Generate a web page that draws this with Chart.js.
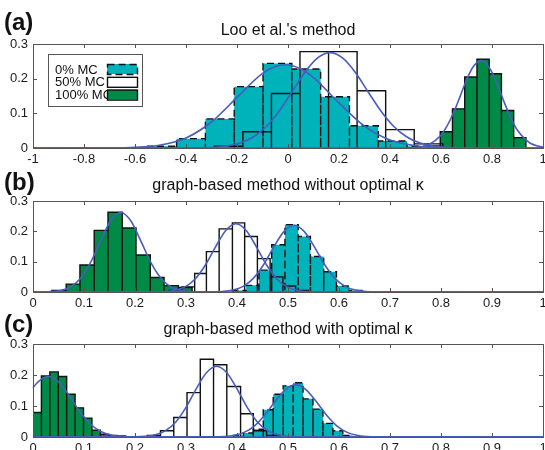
<!DOCTYPE html>
<html>
<head>
<meta charset="utf-8">
<script src="https://cdn.jsdelivr.net/npm/chart.js@4.4.0/dist/chart.umd.min.js"></script>
<style>
html, body { margin: 0; padding: 0; background: #fff; overflow: hidden; width: 545px; height: 450px; }
canvas { position: absolute; left: 0; }
</style>
</head>
<body>
<canvas id="panelA" width="560" height="168" style="top:0px"></canvas>
<canvas id="panelB" width="560" height="144" style="top:168px"></canvas>
<canvas id="panelC" width="560" height="145" style="top:312px"></canvas>
<script>
// tick labels
var ticksA = [-1, -0.8, -0.6, -0.4, -0.2, 0, 0.2, 0.4, 0.6, 0.8, 1];
var ticksBC = [0, 0.1, 0.2, 0.3, 0.4, 0.5, 0.6, 0.7, 0.8, 0.9, 1];
var ticksY = [0, 0.1, 0.2, 0.3];

var seriesNames = ["0% MC", "50% MC", "100% MC"];

// (a) Loo et al.'s method -- bin edges and relative frequencies
var aCyanEdges = [-0.550, -0.437, -0.324, -0.211, -0.098, 0.015, 0.128, 0.241, 0.354, 0.467, 0.580];
var aCyanFreq = [0.005, 0.027, 0.084, 0.177, 0.244, 0.228, 0.148, 0.064, 0.020, 0.005];
var aWhiteEdges = [-0.289, -0.177, -0.065, 0.047, 0.159, 0.271, 0.383, 0.495, 0.607];
var aWhiteFreq = [0.005, 0.047, 0.157, 0.278, 0.278, 0.165, 0.053, 0.012];
var aGreenEdges = [0.549, 0.597, 0.645, 0.693, 0.741, 0.789, 0.837, 0.885, 0.933];
var aGreenFreq = [0.006, 0.047, 0.113, 0.205, 0.256, 0.214, 0.108, 0.030];
// fitted curves
var aCyanFitX = [-1, -0.7, -0.6, -0.5, -0.4, -0.3, -0.2, -0.1, -0.05, -0.01, 0.05, 0.1, 0.2, 0.3, 0.4, 0.5, 0.6, 0.7, 1];
var aCyanFitY = [0, 0.0003, 0.0019, 0.0086, 0.029, 0.075, 0.146, 0.215, 0.235, 0.24, 0.228, 0.203, 0.130, 0.063, 0.023, 0.0066, 0.0014, 0.0002, 0];
var aWhiteFitX = [-1, -0.385, -0.285, -0.235, -0.185, -0.135, -0.085, -0.035, 0.015, 0.065, 0.115, 0.165, 0.215, 0.265, 0.315, 0.365, 0.415, 0.465, 0.515, 0.565, 0.615, 0.715, 1];
var aWhiteFitY = [0, 0.0002, 0.0022, 0.0061, 0.0149, 0.0324, 0.062, 0.106, 0.161, 0.217, 0.259, 0.275, 0.259, 0.217, 0.161, 0.106, 0.062, 0.0324, 0.0149, 0.0061, 0.0022, 0.0002, 0];
var aGreenFitX = [-1, 0.4, 0.5, 0.55, 0.6, 0.625, 0.65, 0.675, 0.7, 0.725, 0.757, 0.775, 0.8, 0.825, 0.85, 0.875, 0.9, 0.95, 1];
var aGreenFitY = [0, 0, 0.0014, 0.0088, 0.037, 0.065, 0.103, 0.149, 0.196, 0.233, 0.252, 0.246, 0.218, 0.176, 0.128, 0.085, 0.051, 0.0137, 0.0025];

// (b) graph-based without optimal kappa
var bGreenEdges = [0.037, 0.065, 0.092, 0.120, 0.147, 0.175, 0.202, 0.230, 0.257, 0.285, 0.312];
var bGreenFreq = [0.005, 0.026, 0.089, 0.203, 0.263, 0.211, 0.122, 0.048, 0.021, 0.015];
var bWhiteEdges = [0.267, 0.292, 0.317, 0.340, 0.365, 0.391, 0.415, 0.440, 0.465, 0.490, 0.515, 0.540];
var bWhiteFreq = [0.005, 0.017, 0.061, 0.133, 0.208, 0.228, 0.183, 0.11, 0.05, 0.02, 0.005];
var bCyanEdges = [0.392, 0.418, 0.443, 0.468, 0.494, 0.520, 0.544, 0.570, 0.595, 0.620, 0.645];
var bCyanFreq = [0.005, 0.022, 0.072, 0.156, 0.222, 0.183, 0.117, 0.067, 0.020, 0.005];
var bGreenFitX = [0, 0.032, 0.052, 0.072, 0.092, 0.112, 0.132, 0.152, 0.172, 0.192, 0.212, 0.232, 0.252, 0.272, 0.292, 0.312, 0.34, 1];
var bGreenFitY = [0, 0.001, 0.0044, 0.015, 0.043, 0.094, 0.166, 0.234, 0.262, 0.234, 0.166, 0.094, 0.043, 0.015, 0.0044, 0.001, 0, 0];
var bWhiteFitX = [0, 0.238, 0.258, 0.278, 0.298, 0.318, 0.338, 0.358, 0.378, 0.398, 0.418, 0.438, 0.458, 0.478, 0.498, 0.518, 0.538, 0.558, 1];
var bWhiteFitY = [0, 0.0003, 0.0014, 0.0055, 0.017, 0.043, 0.089, 0.149, 0.203, 0.225, 0.203, 0.149, 0.089, 0.043, 0.017, 0.0055, 0.0014, 0.0003, 0];
var bCyanFitX = [0, 0.352, 0.372, 0.392, 0.412, 0.432, 0.452, 0.472, 0.492, 0.512, 0.532, 0.552, 0.572, 0.592, 0.612, 0.632, 0.652, 0.672, 1];
var bCyanFitY = [0, 0.0004, 0.0017, 0.0063, 0.0187, 0.045, 0.090, 0.148, 0.199, 0.22, 0.199, 0.148, 0.090, 0.045, 0.0187, 0.0063, 0.0017, 0.0004, 0];

// (c) graph-based with optimal kappa
var cGreenEdges = [0, 0.0165, 0.033, 0.0495, 0.066, 0.0825, 0.099, 0.1155, 0.132, 0.1485, 0.165, 0.1815];
var cGreenFreq = [0.079, 0.197, 0.210, 0.195, 0.138, 0.094, 0.061, 0.022, 0.009, 0.005, 0.003];
var cWhiteEdges = [0.224, 0.250, 0.276, 0.302, 0.328, 0.354, 0.380, 0.407, 0.432, 0.458, 0.484];
var cWhiteFreq = [0.005, 0.02, 0.063, 0.143, 0.251, 0.233, 0.163, 0.075, 0.02, 0.005];
var cCyanEdges = [0.393, 0.4125, 0.432, 0.4515, 0.471, 0.4905, 0.510, 0.5295, 0.549, 0.5685, 0.588, 0.6075, 0.627];
var cCyanFreq = [0.005, 0.013, 0.025, 0.088, 0.138, 0.165, 0.175, 0.123, 0.09, 0.044, 0.02, 0.005];
var cGreenFitX = [0, 0.01, 0.03, 0.05, 0.07, 0.09, 0.11, 0.13, 0.15, 0.17, 0.19, 0.21, 1];
var cGreenFitY = [0.159, 0.178, 0.195, 0.178, 0.136, 0.086, 0.046, 0.0203, 0.0075, 0.0023, 0.0006, 0.0001, 0];
var cWhiteFitX = [0, 0.2, 0.22, 0.24, 0.26, 0.28, 0.30, 0.32, 0.34, 0.36, 0.38, 0.40, 0.42, 0.44, 0.46, 0.48, 0.50, 0.52, 1];
var cWhiteFitY = [0, 0.0005, 0.002, 0.007, 0.0204, 0.0486, 0.0955, 0.155, 0.207, 0.228, 0.207, 0.155, 0.0955, 0.0486, 0.0204, 0.007, 0.002, 0.0005, 0];
var cCyanFitX = [0, 0.355, 0.375, 0.395, 0.415, 0.435, 0.455, 0.475, 0.495, 0.515, 0.535, 0.555, 0.575, 0.595, 0.615, 0.635, 0.655, 0.675, 1];
var cCyanFitY = [0, 0.0004, 0.0016, 0.0056, 0.0158, 0.037, 0.0717, 0.115, 0.153, 0.168, 0.153, 0.115, 0.0717, 0.037, 0.0158, 0.0056, 0.0016, 0.0004, 0];

var CYAN = "#00b2ba";
var GREEN = "#008a48";
var BLUE = "#4a5cbd";
var FONT = "'Liberation Sans', Arial, sans-serif";

// bars traced as one outline so every bin edge gets drawn
function outline(edges, freq) {
  var pts = [{x: edges[0], y: 0}];
  for (var i = 0; i < freq.length; i++) {
    pts.push({x: edges[i], y: freq[i]});
    pts.push({x: edges[i + 1], y: freq[i]});
    pts.push({x: edges[i + 1], y: 0});
  }
  return pts;
}
function pairs(xs, ys) {
  return xs.map(function (x, i) { return {x: x, y: ys[i]}; });
}

function fit(xs, ys) {
  return {data: pairs(xs, ys), borderColor: BLUE, borderWidth: 1.6, fill: false,
    pointRadius: 0, cubicInterpolationMode: "monotone", clip: 4};
}
function hist(kind, edges, freq) {
  var ds = {data: outline(edges, freq), borderColor: "#111", borderWidth: 1.4,
    pointRadius: 0, tension: 0, legendKind: kind};
  if (kind == 0) { ds.backgroundColor = CYAN; ds.fill = "origin"; ds.borderDash = [7, 4]; }
  if (kind == 1) { ds.fill = false; }
  if (kind == 2) { ds.backgroundColor = GREEN; ds.fill = "origin"; }
  return ds;
}

var framePlugin = {
  id: "frame",
  afterDraw: function (chart) {
    var ctx = chart.ctx, a = chart.chartArea;
    var sx = chart.scales.x, sy = chart.scales.y;
    ctx.save();
    ctx.strokeStyle = "#555";
    ctx.lineWidth = 1;
    ctx.beginPath();
    sx.ticks.forEach(function (t) {
      var px = Math.round(sx.getPixelForValue(t.value)) + 0.5;
      ctx.moveTo(px, a.bottom); ctx.lineTo(px, a.bottom - 4);
      ctx.moveTo(px, a.top); ctx.lineTo(px, a.top + 4);
    });
    sy.ticks.forEach(function (t) {
      var py = Math.round(sy.getPixelForValue(t.value)) + 0.5;
      ctx.moveTo(a.left, py); ctx.lineTo(a.left + 4, py);
      ctx.moveTo(a.right, py); ctx.lineTo(a.right - 4, py);
    });
    ctx.stroke();
    ctx.strokeRect(Math.round(a.left) + 0.5, Math.round(a.top) + 0.5, Math.round(a.right - a.left), Math.round(a.bottom - a.top));
    ctx.restore();
  }
};

function headPlugin(tag, title, tagBase, titleBase) {
  return {
    id: "head",
    afterDraw: function (chart) {
      var ctx = chart.ctx, a = chart.chartArea;
      ctx.save();
      ctx.fillStyle = "#111";
      ctx.textBaseline = "alphabetic";
      ctx.font = "bold 24px " + FONT;
      ctx.textAlign = "left";
      ctx.fillText(tag, 4, tagBase);
      ctx.font = "16px " + FONT;
      ctx.textAlign = "center";
      ctx.fillText(title, (a.left + a.right) / 2, titleBase);
      ctx.restore();
    }
  };
}

var legendPlugin = {
  id: "boxLegend",
  afterDraw: function (chart) {
    var ctx = chart.ctx;
    var x0 = 48, y0 = 54, w = 94, h = 52;
    ctx.save();
    ctx.fillStyle = "#fff";
    ctx.fillRect(x0, y0, w, h);
    ctx.strokeStyle = "#555";
    ctx.lineWidth = 1;
    ctx.strokeRect(x0 + 0.5, y0 + 0.5, w, h);
    ctx.font = "13px " + FONT;
    ctx.textBaseline = "alphabetic";
    ctx.textAlign = "left";
    var items = chart.data.datasets.filter(function (d) { return d.legendKind !== undefined; })
      .sort(function (p, q) { return p.legendKind - q.legendKind; });
    items.forEach(function (d, i) {
      var ty = y0 + 20 + i * 12.3;
      ctx.fillStyle = "#111";
      ctx.fillText(seriesNames[d.legendKind], x0 + 7, ty);
      var bx = x0 + 59, by = y0 + 10 + i * 12.8;
      ctx.fillStyle = d.backgroundColor || "#fff";
      ctx.fillRect(bx, by, 30, 10);
      ctx.strokeStyle = "#111";
      ctx.lineWidth = 1.4;
      ctx.setLineDash(d.borderDash || []);
      ctx.strokeRect(bx + 0.5, by + 0.5, 30, 10);
      ctx.setLineDash([]);
    });
    ctx.restore();
  }
};

function makePanel(id, xTicks, top, datasets, extra) {
  return new Chart(document.getElementById(id), {
    type: "line",
    data: {datasets: datasets},
    options: {
      responsive: false,
      animation: false,
      layout: {padding: {top: top, right: 17, left: 0, bottom: 0}},
      plugins: {legend: {display: false}, tooltip: {enabled: false}, title: {display: false}},
      scales: {
        x: {
          type: "linear", min: xTicks[0], max: xTicks[xTicks.length - 1],
          grid: {display: false, drawTicks: false}, border: {display: false},
          afterBuildTicks: function (s) { s.ticks = xTicks.map(function (v) { return {value: v}; }); },
          afterFit: function (s) { s.height = 20; },
          ticks: {padding: 4, color: "#1a1a1a", font: {family: FONT, size: 13}, maxRotation: 0, autoSkip: false,
            callback: function (v) { return String(v); }}
        },
        y: {
          min: ticksY[0], max: ticksY[ticksY.length - 1],
          grid: {display: false, drawTicks: false}, border: {display: false},
          afterBuildTicks: function (s) { s.ticks = ticksY.map(function (v) { return {value: v}; }); },
          afterFit: function (s) { s.width = 33; },
          ticks: {padding: 5, color: "#1a1a1a", font: {family: FONT, size: 13},
            callback: function (v) { return String(v); }}
        }
      }
    },
    plugins: [framePlugin].concat(extra)
  });
}

makePanel("panelA", ticksA, 44, [
  fit(aCyanFitX, aCyanFitY),
  fit(aWhiteFitX, aWhiteFitY),
  fit(aGreenFitX, aGreenFitY),
  hist(1, aWhiteEdges, aWhiteFreq),
  hist(0, aCyanEdges, aCyanFreq),
  hist(2, aGreenEdges, aGreenFreq)
], [headPlugin("(a)", "Loo et al.'s method", 30, 35), legendPlugin]);

makePanel("panelB", ticksBC, 33, [
  fit(bGreenFitX, bGreenFitY),
  fit(bWhiteFitX, bWhiteFitY),
  fit(bCyanFitX, bCyanFitY),
  hist(1, bWhiteEdges, bWhiteFreq),
  hist(0, bCyanEdges, bCyanFreq),
  hist(2, bGreenEdges, bGreenFreq)
], [headPlugin("(b)", "graph-based method without optimal \u03BA", 22, 21.5)]);

makePanel("panelC", ticksBC, 32, [
  fit(cGreenFitX, cGreenFitY),
  fit(cWhiteFitX, cWhiteFitY),
  fit(cCyanFitX, cCyanFitY),
  hist(1, cWhiteEdges, cWhiteFreq),
  hist(0, cCyanEdges, cCyanFreq),
  hist(2, cGreenEdges, cGreenFreq)
], [headPlugin("(c)", "graph-based method with optimal \u03BA", 19.5, 22)]);
</script>
</body>
</html>
